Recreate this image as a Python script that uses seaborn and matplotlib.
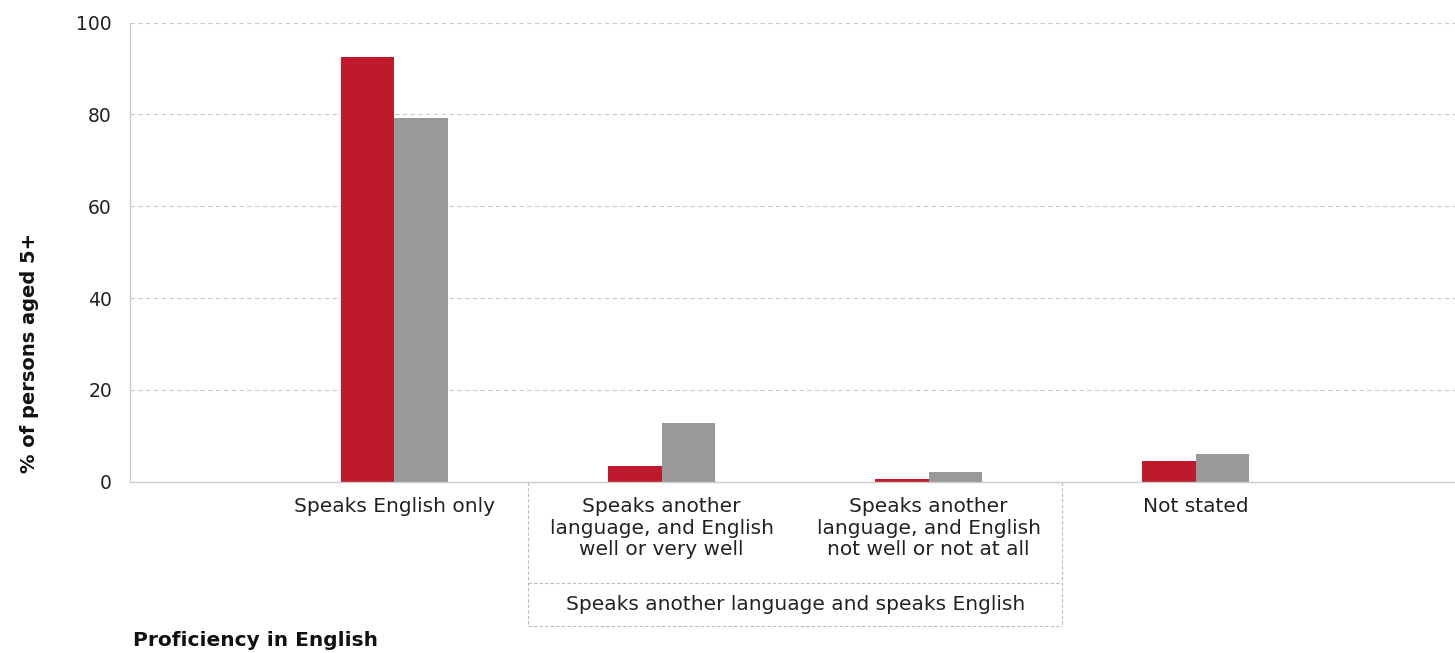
import pandas as pd
import seaborn as sns
import matplotlib.pyplot as plt

categories = [
    'Speaks English only',
    'Speaks another\nlanguage, and English\nwell or very well',
    'Speaks another\nlanguage, and English\nnot well or not at all',
    'Not stated',
]
series = ['Area', 'England']
area_values = [92.4, 3.5, 0.5, 4.4]
england_values = [79.3, 12.7, 2.2, 6.1]
colors = ['#BE1A2C', '#999999']
group_label = 'Speaks another language and speaks English'

df = pd.DataFrame({
    'category': categories * 2,
    'series': [series[0]] * 4 + [series[1]] * 4,
    'value': area_values + england_values,
})

sns.set_style('white')
plt.rcParams['font.family'] = ['DejaVu Sans']

fig = plt.figure(figsize=(14.55, 6.53), dpi=100)
ax = fig.add_axes([130 / 1455, 171.3 / 653, 1 - 130 / 1455, 459.2 / 653])

sns.barplot(data=df, x='category', y='value', hue='series', order=categories,
            hue_order=series, palette=colors, width=0.4, saturation=1,
            edgecolor='none', legend=False, ax=ax)

ax.set_ylim(0, 100)
ax.set_xlim(-0.99, 3.97)
ax.set_yticks([0, 20, 40, 60, 80, 100])
ax.yaxis.grid(True, linestyle=(0, (4, 3)), color='#c8c8c8', linewidth=0.8)
ax.set_axisbelow(True)
for side in ['top', 'right']:
    ax.spines[side].set_visible(False)
for side in ['left', 'bottom']:
    ax.spines[side].set_color('#cccccc')
    ax.spines[side].set_linewidth(1)
ax.tick_params(axis='y', length=9, color='#cccccc', pad=4, labelsize=13.5, labelcolor='#222222')
ax.tick_params(axis='x', length=4, color='#cccccc', pad=7, labelsize=14.5, labelcolor='#222222')
for lbl in ax.get_xticklabels():
    lbl.set_linespacing(1.18)
ax.set_xlabel('')
ax.set_ylabel('')

# grouping box under the two middle categories
trans = ax.get_xaxis_transform()
box = dict(transform=trans, clip_on=False, color='#bbbbbb', linestyle=(0, (3, 2)), linewidth=0.8)
ax.plot([0.5, 0.5], [0, -0.314], **box)
ax.plot([2.5, 2.5], [0, -0.314], **box)
ax.plot([0.5, 2.5], [-0.314, -0.314], **box)
ax.plot([0.5, 2.5], [-0.2207, -0.2207], **box)
ax.text(1.5, -0.268, group_label, transform=trans, ha='center', va='center',
        fontsize=14.5, color='#222222')

fig.text(30 / 1455, 1 - 353 / 653, '% of persons aged 5+', rotation=90, ha='center',
         va='center', fontsize=14, fontweight='bold', color='#111111')
fig.text(133 / 1455, 1 - 640 / 653, 'Proficiency in English', ha='left', va='center',
         fontsize=14.5, fontweight='bold', color='#111111')

plt.savefig('out.png', dpi=100)
